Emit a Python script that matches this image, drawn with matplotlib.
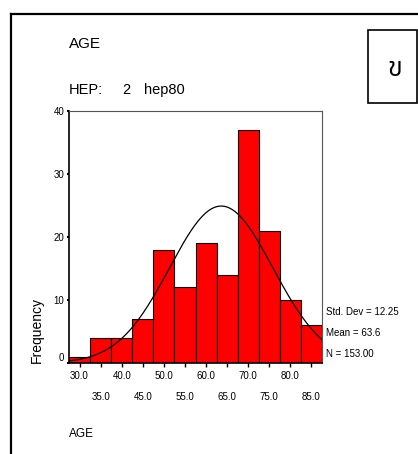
import numpy as np
import matplotlib.pyplot as plt
from matplotlib import font_manager, ft2font
from matplotlib.lines import Line2D
from matplotlib.patches import Rectangle

# histogram data
bin_edges = [27.5, 32.5, 37.5, 42.5, 47.5, 52.5, 57.5, 62.5, 67.5, 72.5, 77.5, 82.5, 87.5]
counts = [1, 4, 4, 7, 18, 12, 19, 14, 37, 21, 10, 6]
x_ticks = [30, 35, 40, 45, 50, 55, 60, 65, 70, 75, 80, 85]
y_ticks = [0, 10, 20, 30, 40]
std_dev = 12.25
mean = 63.6
n = 153

plt.rcParams['font.family'] = ['Liberation Sans Narrow', 'Liberation Sans', 'DejaVu Sans']

# look for an installed font that has the thai letter
thai_fams = []
for f in font_manager.fontManager.ttflist:
    try:
        if 0x0E02 in ft2font.FT2Font(f.fname).get_charmap():
            thai_fams.append(f.name)
    except Exception:
        pass
thai_fams = sorted(set(thai_fams))
thai = thai_fams[:1] + ['DejaVu Sans']

W, H = 418, 454
fig = plt.figure(figsize=(W / 100, H / 100), dpi=100)

def fx(px):
    return px / W

def fy(py):
    return 1 - py / H

# outer frame (left + top)
fig.add_artist(Line2D([fx(11), fx(11)], [fy(14), 0], color='black', lw=1.6))
fig.add_artist(Line2D([fx(11), 1], [fy(14), fy(14)], color='black', lw=1.6))

# small box top right
fig.add_artist(Rectangle((fx(368), fy(103)), fx(417) - fx(368), fy(30) - fy(103),
                         fill=False, edgecolor='black', lw=1.2, transform=fig.transFigure))
fig.text(fx(395), fy(69), 'ข', fontsize=19, ha='center', va='center', family=thai)

fig.text(fx(69), fy(44), 'AGE', fontsize=11, va='center')
fig.text(fx(69), fy(90), 'HEP:', fontsize=10.5, va='center')
fig.text(fx(122), fy(90), '2', fontsize=10.5, va='center')
fig.text(fx(144), fy(90), 'hep80', fontsize=10.5, va='center')

ax = fig.add_axes([fx(69), fy(363), fx(322) - fx(69), fy(111) - fy(363)])

lefts = bin_edges[:-1]
widths = [bin_edges[i + 1] - bin_edges[i] for i in range(len(counts))]
ax.bar(lefts, counts, width=widths, align='edge', color='#ff0000', edgecolor='black', lw=0.8)

# normal curve from the shown stats
xs = np.linspace(bin_edges[0], bin_edges[-1], 300)
bw = widths[0]
ys = n * bw / (std_dev * np.sqrt(2 * np.pi)) * np.exp(-0.5 * ((xs - mean) / std_dev) ** 2)
ax.plot(xs, ys, color='black', lw=0.9)

ax.set_xlim(bin_edges[0], bin_edges[-1])
ax.set_ylim(0, 40)
ax.set_xticks(x_ticks)
ax.set_xticklabels([('%.1f' % t) if i % 2 == 0 else ('\n%.1f' % t) for i, t in enumerate(x_ticks)],
                   fontsize=7, linespacing=2.3)
ax.set_yticks(y_ticks)
ax.set_yticklabels([str(t) for t in y_ticks], fontsize=7)
ax.get_yticklabels()[0].set_va('bottom')
ax.tick_params(axis='x', length=3, width=1, pad=3)
ax.tick_params(axis='y', length=1.5, width=1.5, pad=2)
ax.spines['top'].set_color('#555555')
ax.spines['right'].set_color('#555555')
ax.spines['top'].set_linewidth(0.8)
ax.spines['right'].set_linewidth(0.8)
ax.spines['left'].set_linewidth(1.2)
ax.spines['bottom'].set_linewidth(1.2)

fig.text(fx(37), fy(330), 'Frequency', rotation=90, fontsize=10, ha='center', va='center')

fig.text(fx(326), fy(312), 'Std. Dev = %.2f' % std_dev, fontsize=7, va='center')
fig.text(fx(326), fy(333), 'Mean = %.1f' % mean, fontsize=7, va='center')
fig.text(fx(326), fy(354), 'N = %.2f' % n, fontsize=7, va='center')

fig.text(fx(69), fy(434), 'AGE', fontsize=8.5, va='center')

fig.savefig('out.png', dpi=100)
